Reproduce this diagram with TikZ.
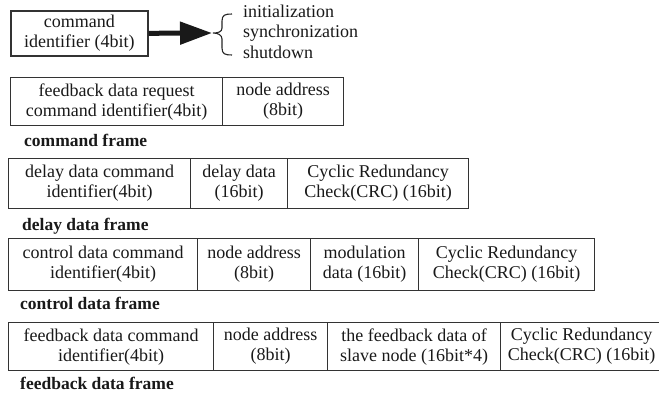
\documentclass[tikz,border=0pt]{standalone}
\usepackage{fontspec}
\setmainfont{Liberation Serif}
\usetikzlibrary{arrows.meta}
\begin{document}
\begin{tikzpicture}[x=1pt,y=-1pt,
  cell/.style={draw=black!80, line width=1.2pt, align=center, inner sep=0pt,
    anchor=north west, font=\fontsize{18}{20}\selectfont, text=black!90},
  lbl/.style={anchor=west, inner sep=0pt, text height=12pt, text depth=4pt,
    font=\fontsize{17.5}{20}\selectfont\bfseries, text=black!90},
  item/.style={anchor=west, inner sep=0pt, text height=12pt, text depth=4pt,
    font=\fontsize{18}{20}\selectfont, text=black!90},
  bigarrow/.style={line width=5pt, black!90, -{Triangle[length=32pt,width=22pt]}},
  bracepath/.style={line width=1.1pt, black!85}]
\clip (0,0) rectangle (659,396);
% row 0
\node[cell, line width=1.6pt, minimum width=137, minimum height=45] (cmd) at (10,10) {command\\identifier (4bit)};
\coordinate (tip) at (212,33);
\draw[bigarrow] (cmd.east) -- (tip);
\draw[bracepath] (232,14) .. controls (225,14) and (222,15) .. (222,21) -- (222,28)
  .. controls (222,32) and (218,33) .. (213,33)
  .. controls (218,33) and (222,35) .. (222,39) -- (222,48)
  .. controls (222,54) and (225,55) .. (232,55);
\node[item] (i1) at (243,14) {initialization};
\node[item] (i2) at (243,34) {synchronization};
\node[item] (i3) at (243,55) {shutdown};
% row 1
\node[cell, minimum width=212, minimum height=48] (a1) at (10,77) {feedback data request\\command identifier(4bit)};
\node[cell, minimum width=121, minimum height=48] (a2) at (222,77) {node address\\(8bit)};
\node[lbl] (la) at (24,142) {command frame};
% row 2
\node[cell, minimum width=182, minimum height=50] (b1) at (8,158) {delay data command\\identifier(4bit)};
\node[cell, minimum width=97, minimum height=50] (b2) at (190,158) {delay data\\(16bit)};
\node[cell, minimum width=181, minimum height=50] (b3) at (287,158) {Cyclic Redundancy\\Check(CRC) (16bit)};
\node[lbl] (lb) at (22,226) {delay data frame};
% row 3
\node[cell, minimum width=189, minimum height=52] (c1) at (8,238) {control data command\\identifier(4bit)};
\node[cell, minimum width=113, minimum height=52] (c2) at (197,238) {node address\\(8bit)};
\node[cell, minimum width=108, minimum height=52] (c3) at (310,238) {modulation\\data (16bit)};
\node[cell, minimum width=176, minimum height=52] (c4) at (418,238) {Cyclic Redundancy\\Check(CRC) (16bit)};
\node[lbl] (lc) at (20,305) {control data frame};
% row 4
\node[cell, minimum width=205, minimum height=48] (d1) at (8,322) {feedback data command\\identifier(4bit)};
\node[cell, minimum width=114, minimum height=48] (d2) at (213,322) {node address\\(8bit)};
\node[cell, minimum width=173, minimum height=48] (d3) at (327,322) {the feedback data of\\slave node (16bit*4)};
\node[cell, minimum width=162, minimum height=48] (d4) at (500,322) {Cyclic Redundancy\\Check(CRC) (16bit)};
\node[lbl] (ld) at (20,385) {feedback data frame};
\end{tikzpicture}
\end{document}
